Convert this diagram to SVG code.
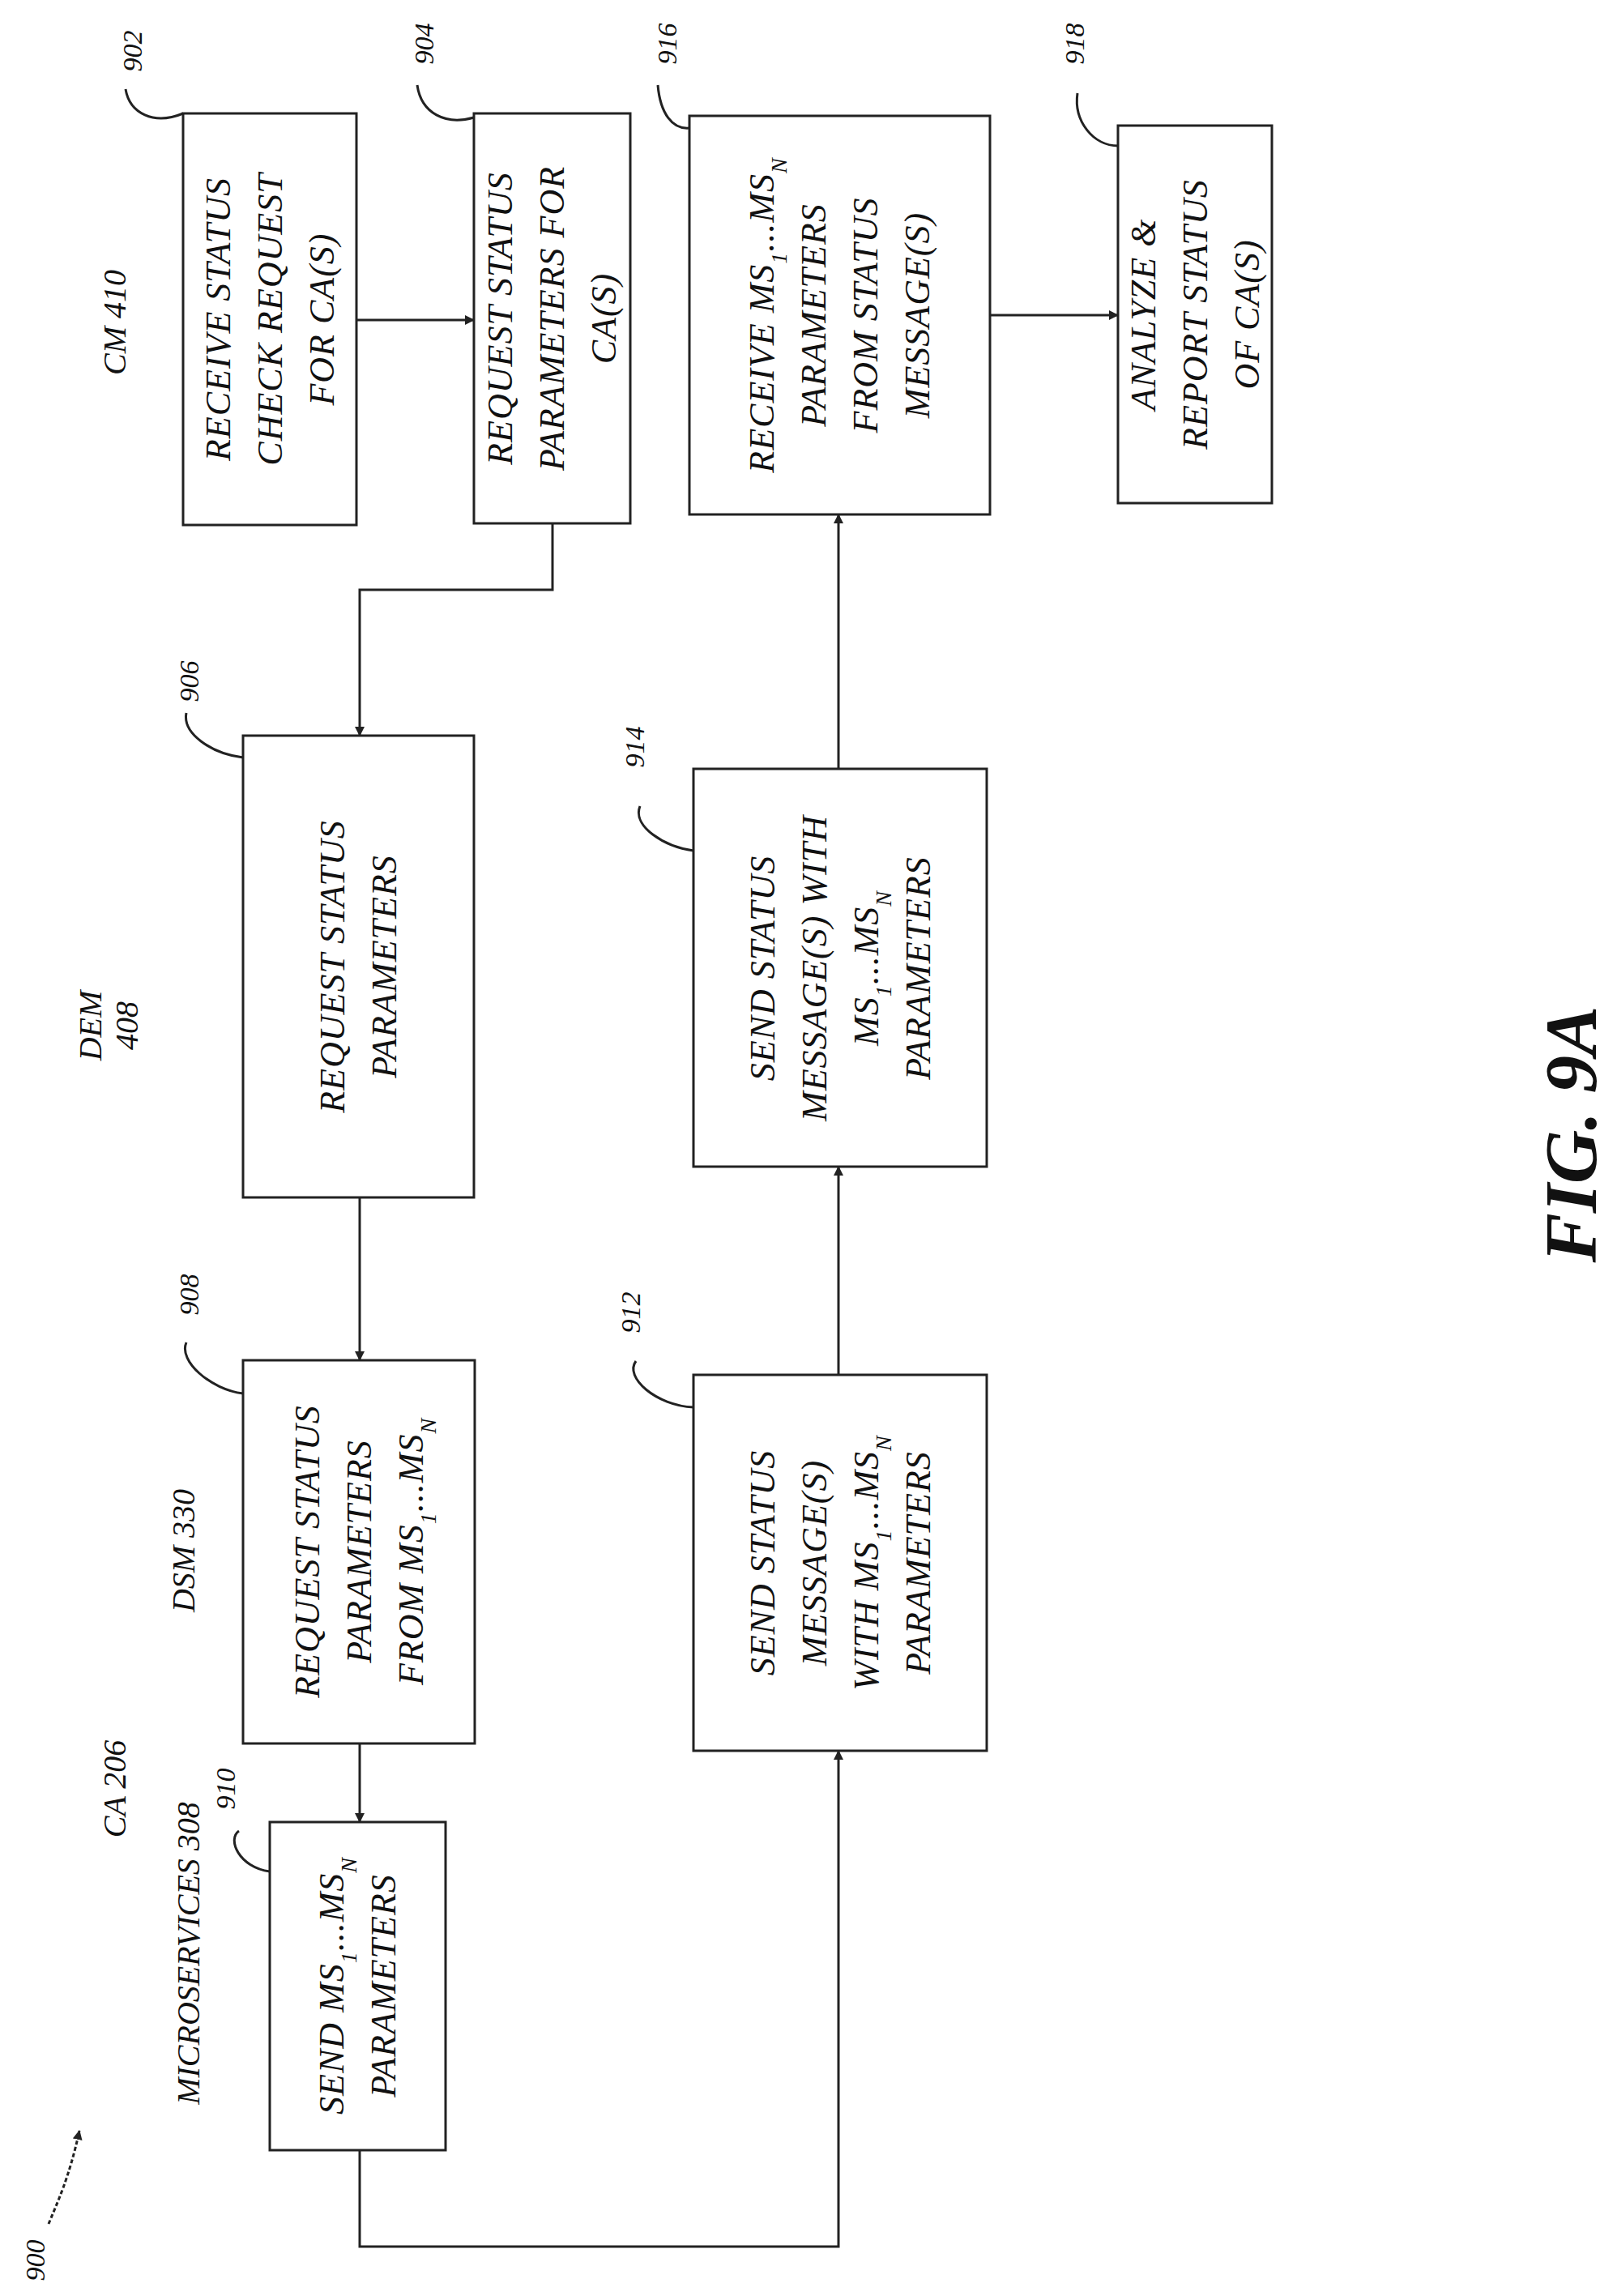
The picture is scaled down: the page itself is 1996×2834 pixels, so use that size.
<svg xmlns="http://www.w3.org/2000/svg" width="1996" height="2834" viewBox="0 0 1996 2834">
<style>
.b{fill:#fff;stroke:#222;stroke-width:3}
.t{font-family:"Liberation Serif",serif;font-style:italic;font-size:44px;fill:#111;text-anchor:middle;letter-spacing:1px}
.l{font-family:"Liberation Serif",serif;font-style:italic;font-size:40px;fill:#111;text-anchor:middle}
.c{fill:none;stroke:#222;stroke-width:3}
.s{font-size:28px}
</style>
<defs><marker id="a" markerWidth="12" markerHeight="12" refX="11" refY="6" orient="auto" markerUnits="userSpaceOnUse"><path d="M0,0 L12,6 L0,12 z" fill="#222"/></marker></defs>
<g id="lanes">
<text class="l" transform="translate(155,398) rotate(-90)">CM 410</text>
<text class="l" transform="translate(125,1266) rotate(-90)">DEM</text>
<text class="l" transform="translate(170,1266) rotate(-90)">408</text>
<text class="l" transform="translate(240,1914) rotate(-90)">DSM 330</text>
<text class="l" transform="translate(155,2208) rotate(-90)">CA 206</text>
<text class="l" transform="translate(246,2411) rotate(-90)">MICROSERVICES 308</text>
<text class="l" transform="translate(1970,1400) rotate(-90)" style="font-size:92px;font-weight:bold">FIG. 9A</text>
</g>
<g id="n902"><rect class="b" x="226" y="140" width="214" height="508"/>
<text class="t" transform="translate(333,394) rotate(-90)"><tspan x="0" dy="-49">RECEIVE STATUS</tspan><tspan x="0" dy="64">CHECK REQUEST</tspan><tspan x="0" dy="64">FOR CA(S)</tspan></text>
<text class="l" transform="translate(175,63) rotate(-90)" style="font-size:34px">902</text><path class="c" d="M155,110 C160,140 190,155 226,140" stroke-width="2"/></g>
<g id="n904"><rect class="b" x="585" y="140" width="193" height="506"/>
<text class="t" transform="translate(681,393) rotate(-90)"><tspan x="0" dy="-49">REQUEST STATUS</tspan><tspan x="0" dy="64">PARAMETERS FOR</tspan><tspan x="0" dy="64">CA(S)</tspan></text>
<text class="l" transform="translate(535,54) rotate(-90)" style="font-size:34px">904</text><path class="c" d="M515,105 C520,140 550,155 585,145" stroke-width="2"/></g>
<g id="n916"><rect class="b" x="851" y="143" width="371" height="492"/>
<text class="t" transform="translate(1036,389) rotate(-90)"><tspan x="0" dy="-81">RECEIVE MS<tspan class="s" baseline-shift="sub">1</tspan>...MS<tspan class="s" baseline-shift="sub">N</tspan></tspan><tspan x="0" dy="64">PARAMETERS</tspan><tspan x="0" dy="64">FROM STATUS</tspan><tspan x="0" dy="64">MESSAGE(S)</tspan></text>
<text class="l" transform="translate(835,54) rotate(-90)" style="font-size:34px">916</text><path class="c" d="M812,105 C815,140 830,160 851,158" stroke-width="2"/></g>
<g id="n918"><rect class="b" x="1380" y="155" width="190" height="466"/>
<text class="t" transform="translate(1475,388) rotate(-90)"><tspan x="0" dy="-49">ANALYZE &amp;</tspan><tspan x="0" dy="64">REPORT STATUS</tspan><tspan x="0" dy="64">OF CA(S)</tspan></text>
<text class="l" transform="translate(1338,54) rotate(-90)" style="font-size:34px">918</text><path class="c" d="M1330,115 C1325,150 1350,180 1380,180" stroke-width="2"/></g>
<g id="n906"><rect class="b" x="300" y="908" width="285" height="570"/>
<text class="t" transform="translate(442,1193) rotate(-90)"><tspan x="0" dy="-17">REQUEST STATUS</tspan><tspan x="0" dy="64">PARAMETERS</tspan></text>
<text class="l" transform="translate(245,841) rotate(-90)" style="font-size:34px">906</text><path class="c" d="M230,880 C225,905 260,930 300,935" stroke-width="2"/></g>
<g id="n914"><rect class="b" x="856" y="949" width="362" height="491"/>
<text class="t" transform="translate(1037,1195) rotate(-90)"><tspan x="0" dy="-81">SEND STATUS</tspan><tspan x="0" dy="64">MESSAGE(S) WITH</tspan><tspan x="0" dy="64">MS<tspan class="s" baseline-shift="sub">1</tspan>...MS<tspan class="s" baseline-shift="sub">N</tspan></tspan><tspan x="0" dy="64">PARAMETERS</tspan></text>
<text class="l" transform="translate(795,922) rotate(-90)" style="font-size:34px">914</text><path class="c" d="M790,995 C780,1020 820,1045 856,1050" stroke-width="2"/></g>
<g id="n908"><rect class="b" x="300" y="1679" width="286" height="473"/>
<text class="t" transform="translate(443,1915) rotate(-90)"><tspan x="0" dy="-49">REQUEST STATUS</tspan><tspan x="0" dy="64">PARAMETERS</tspan><tspan x="0" dy="64">FROM  MS<tspan class="s" baseline-shift="sub">1</tspan>...MS<tspan class="s" baseline-shift="sub">N</tspan></tspan></text>
<text class="l" transform="translate(245,1598) rotate(-90)" style="font-size:34px">908</text><path class="c" d="M230,1657 C220,1680 260,1715 300,1720" stroke-width="2"/></g>
<g id="n912"><rect class="b" x="856" y="1697" width="362" height="464"/>
<text class="t" transform="translate(1037,1929) rotate(-90)"><tspan x="0" dy="-81">SEND STATUS</tspan><tspan x="0" dy="64">MESSAGE(S)</tspan><tspan x="0" dy="64">WITH MS<tspan class="s" baseline-shift="sub">1</tspan>...MS<tspan class="s" baseline-shift="sub">N</tspan></tspan><tspan x="0" dy="64">PARAMETERS</tspan></text>
<text class="l" transform="translate(790,1620) rotate(-90)" style="font-size:34px">912</text><path class="c" d="M785,1680 C770,1700 810,1735 856,1737" stroke-width="2"/></g>
<g id="n910"><rect class="b" x="333" y="2249" width="217" height="405"/>
<text class="t" transform="translate(441,2451) rotate(-90)"><tspan x="0" dy="-17">SEND MS<tspan class="s" baseline-shift="sub">1</tspan>...MS<tspan class="s" baseline-shift="sub">N</tspan></tspan><tspan x="0" dy="64">PARAMETERS</tspan></text>
<text class="l" transform="translate(290,2208) rotate(-90)" style="font-size:34px">910</text><path class="c" d="M295,2260 C280,2270 295,2305 333,2310" stroke-width="2"/></g>
<g id="n900"><text class="l" transform="translate(55,2790) rotate(-90)" style="font-size:34px">900</text><path class="c" d="M60,2745 C70,2720 85,2690 98,2630" stroke-width="2" stroke-dasharray="5,3" marker-end="url(#a)"/></g>
<g id="connectors">
<path class="c" d="M440,395 H585" marker-end="url(#a)"/>
<path class="c" d="M682,646 V728 H444 V908" marker-end="url(#a)"/>
<path class="c" d="M444,1478 V1679" marker-end="url(#a)"/>
<path class="c" d="M444,2152 V2249" marker-end="url(#a)"/>
<path class="c" d="M444,2654 V2773 H1035 V2161" marker-end="url(#a)"/>
<path class="c" d="M1035,1697 V1440" marker-end="url(#a)"/>
<path class="c" d="M1035,949 V635" marker-end="url(#a)"/>
<path class="c" d="M1222,389 H1380" marker-end="url(#a)"/>
</g>
</svg>
